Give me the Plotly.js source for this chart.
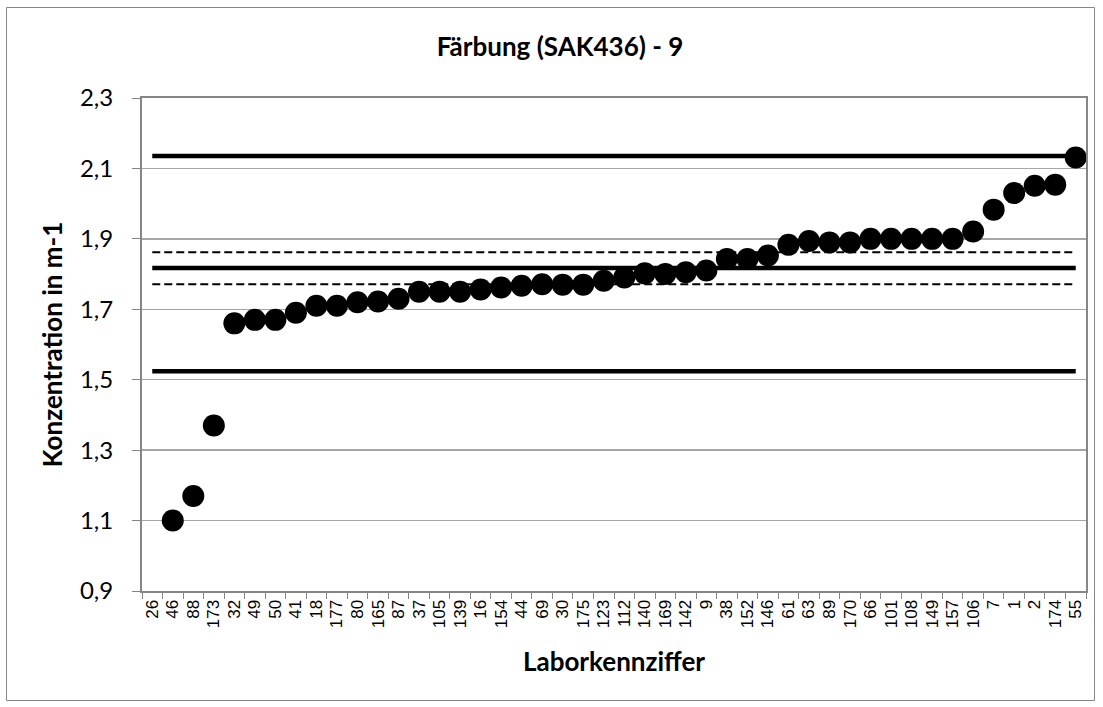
<!DOCTYPE html>
<html>
<head>
<meta charset="utf-8">
<script src="https://cdn.plot.ly/plotly-3.0.1.min.js"></script>
<style>
html,body{margin:0;padding:0;background:#fff;}
#chart{width:1103px;height:707px;}
</style>
</head>
<body>
<div id="chart"></div>
<script>
// Laboratory codes (category axis)
const labs = ["26","46","88","173","32","49","50","41","18","177","80","165","87","37","105","139","16","154","44","69","30","175","123","112","140","169","142","9","38","152","146","61","63","89","170","66","101","108","149","157","106","7","1","2","174","55"];
// Measured values (lab 26 has no plotted value)
const values = [null,1.10,1.17,1.37,1.66,1.67,1.67,1.69,1.71,1.71,1.72,1.722,1.73,1.75,1.75,1.75,1.756,1.762,1.767,1.771,1.77,1.77,1.781,1.79,1.802,1.80,1.805,1.81,1.843,1.843,1.853,1.883,1.894,1.89,1.89,1.90,1.90,1.90,1.90,1.90,1.921,1.983,2.03,2.051,2.054,2.131];
// Reference lines
const assignedValue = 1.817;
const upperTolerance = 2.135;
const lowerTolerance = 1.524;
const upperUncertainty = 1.862;
const lowerUncertainty = 1.771;

const xEnds = [labs[0], labs[labs.length-1]];

function hline(y, width, dash){
  return {x: xEnds, y: [y, y], type: 'scatter', mode: 'lines',
    line: {color: '#000', width: width, dash: dash}, hoverinfo: 'skip', showlegend: false};
}

const traces = [
  {x: labs, y: values, type: 'scatter', mode: 'markers',
   marker: {color: '#000', size: 22, symbol: 'circle'}, showlegend: false},
  hline(upperTolerance, 4.5, 'solid'),
  hline(lowerTolerance, 4.5, 'solid'),
  hline(assignedValue, 4.5, 'solid'),
  hline(upperUncertainty, 2, '8px,4px'),
  hline(lowerUncertainty, 2, '8px,4px')
];

const L = 142, R = 17, T = 98, B = 116;
const pw = 1103 - L - R, ph = 707 - T - B;
function px2x(p){ return (p - L) / pw; }
function py2y(p){ return (707 - B - p) / ph; }

const titleFont = {family: 'Lato, "Open Sans", sans-serif', size: 26, color: '#000', weight: 'bold'};

const layout = {
  width: 1103, height: 707,
  margin: {l: L, r: R, t: T, b: B, pad: 0},
  paper_bgcolor: '#fff', plot_bgcolor: '#fff',
  separators: ',.',
  showlegend: false,
  title: {text: 'Färbung (SAK436) - 9', x: 560/1103, xanchor: 'center', xref: 'container',
          y: 1 - 47/707, yanchor: 'middle', font: titleFont},
  xaxis: {
    type: 'category', categoryorder: 'array', categoryarray: labs,
    range: [-0.5, labs.length - 0.5],
    tickson: 'boundaries', ticks: 'outside', ticklen: 6, tickcolor: '#868686', tickwidth: 1,
    tickangle: -90,
    tickfont: {family: '"Liberation Sans", Arial, sans-serif', size: 17, color: '#000'},
    showgrid: false, zeroline: false,
    showline: true, linecolor: '#868686', linewidth: 2, mirror: true,
    title: {text: 'Laborkennziffer', standoff: 26, font: titleFont}
  },
  yaxis: {
    range: [0.9, 2.3], tick0: 0.9, dtick: 0.2, tickformat: '.1f',
    ticks: 'outside', ticklen: 8, tickcolor: '#868686', tickwidth: 1,
    ticklabelstandoff: 14,
    tickfont: {family: 'Lato, "Open Sans", sans-serif', size: 24, color: '#000'},
    showgrid: true, gridcolor: '#a6a6a6', gridwidth: 1.3,
    zeroline: false,
    showline: true, linecolor: '#868686', linewidth: 2, mirror: true,
    title: {text: 'Konzentration in m-1', standoff: 10, font: titleFont}
  },
  shapes: [
    {type: 'rect', xref: 'paper', yref: 'paper',
     x0: px2x(6.5), x1: px2x(1094.5), y0: py2y(700.5), y1: py2y(7.5),
     line: {color: '#868686', width: 1}, fillcolor: 'rgba(0,0,0,0)', layer: 'below'}
  ]
};

Plotly.newPlot('chart', traces, layout, {displayModeBar: false, staticPlot: true});
</script>
</body>
</html>
